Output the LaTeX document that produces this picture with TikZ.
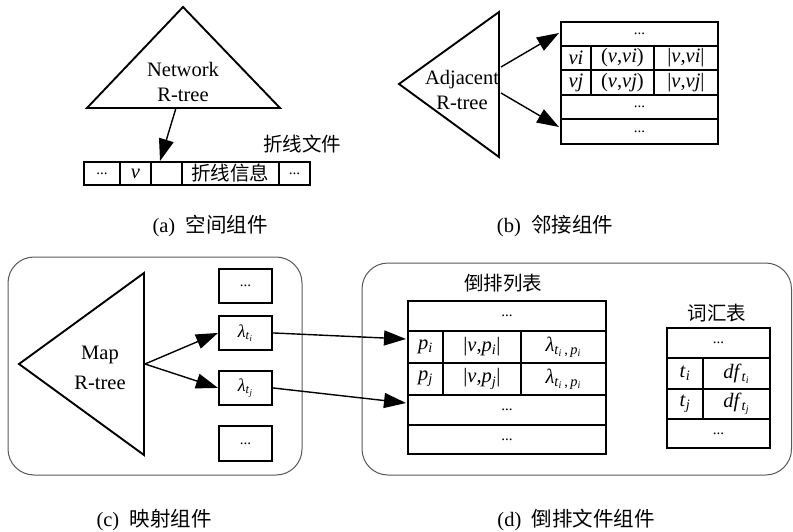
\documentclass[tikz,border=0pt]{standalone}
\usepackage{fontspec}
\setmainfont{Liberation Serif}
\newfontfamily\cjk{Noto Sans CJK SC}
\usetikzlibrary{arrows.meta}
\newcommand\iv[1]{\textit{#1}}
\newcommand\sbs[1]{\textsubscript{#1}}
\begin{document}
\begin{tikzpicture}[x=1pt,y=-1pt,
  every node/.style={font=\fontsize{20.5}{23}\selectfont, inner sep=0pt},
  tcell/.style={draw, line width=1.9pt, anchor=north west, inner sep=0pt},
  tri/.style={draw, line width=1.9pt, line join=miter},
  arr/.style={line width=1.4pt, -{Triangle[length=22pt,width=15pt]}},
  panel/.style={draw=black!65, line width=1pt, rounded corners=26pt},
  dotf/.style={font=\fontsize{15}{16}\selectfont},
  twoline/.style={align=center, font=\fontsize{20.5}{25}\selectfont},
  cjkf/.style={font=\fontsize{19.5}{22}\selectfont\cjk},
]
\useasboundingbox[fill=white] (0,0) rectangle (793,532);

% ---------- (a) ----------
\draw[tri] (183,7) -- (280,108) -- (87,108) -- cycle;
\node[twoline] (nettxt) at (183,82) {Network\\R-tree};
\node[tcell, minimum width=36, minimum height=23, dotf] (sa1) at (83,161) {...};
\node[tcell, minimum width=31, minimum height=23] (sa2) at (119,161) {\iv{v}};
\node[tcell, minimum width=31, minimum height=23] (sa3) at (150,161) {};
\node[tcell, minimum width=97, minimum height=23, cjkf] (sa4) at (181,161) {折线信息};
\node[tcell, minimum width=31, minimum height=23, dotf] (sa5) at (278,161) {...};
\node[cjkf] (zxwj) at (302,144) {折线文件};
\coordinate (na) at (176,108);
\coordinate (nb) at (160,161);
\draw[arr] (na) -- (nb);
\node (capa) at (210,226) {(a)\hspace{0.5em}{\cjk 空间组件}};

% ---------- (b) ----------
\draw[tri] (399,84) -- (499,12) -- (499,157) -- cycle;
\node[twoline] (adjtxt) at (462,90) {Adjacent\\R-tree};
\node[tcell, minimum width=157, minimum height=24, dotf] (b1) at (560,21) {...};
\node[tcell, minimum width=30, minimum height=24] (b21) at (560,45) {\iv{vi}};
\node[tcell, minimum width=63, minimum height=24] (b22) at (590,45) {(\iv{v},\iv{vi})};
\node[tcell, minimum width=64, minimum height=24] (b23) at (653,45) {|\iv{v},\iv{vi}|};
\node[tcell, minimum width=30, minimum height=25] (b31) at (560,69) {\iv{vj}};
\node[tcell, minimum width=63, minimum height=25] (b32) at (590,69) {(\iv{v},\iv{vj})};
\node[tcell, minimum width=64, minimum height=25] (b33) at (653,69) {|\iv{v},\iv{vj}|};
\node[tcell, minimum width=157, minimum height=24, dotf] (b4) at (560,94) {...};
\node[tcell, minimum width=157, minimum height=25, dotf] (b5) at (560,118) {...};
\coordinate (ba1) at (501,67);
\coordinate (bt1) at (559,33);
\coordinate (ba2) at (501,93);
\coordinate (bt2) at (559,127);
\draw[arr] (ba1) -- (bt1);
\draw[arr] (ba2) -- (bt2);
\node (capb) at (555,226) {(b)\hspace{0.5em}{\cjk 邻接组件}};

% ---------- (c) ----------
\draw[panel] (8,257) rectangle (302,475);
\draw[tri] (19,364) -- (144,273) -- (144,455) -- cycle;
\node[align=center, font=\fontsize{20.5}{30}\selectfont] (maptxt) at (100,368) {Map\\R-tree};
\node[tcell, minimum width=53, minimum height=34, dotf] (lb1) at (218,268) {...};
\node[tcell, minimum width=53, minimum height=34, font=\fontsize{18}{20}\selectfont] (lb2) at (218,315) {\iv{λ}\sbs{\iv{t}\sbs{\iv{i}}}};
\node[tcell, minimum width=53, minimum height=34, font=\fontsize{18}{20}\selectfont] (lb3) at (218,370) {\iv{λ}\sbs{\iv{t}\sbs{\iv{j}}}};
\node[tcell, minimum width=53, minimum height=35, dotf] (lb4) at (218,425) {...};
\coordinate (mapr) at (145,364);
\draw[arr] (mapr) -- (lb2.west);
\draw[arr] (mapr) -- (lb3.west);
\node (capc) at (154,520) {(c)\hspace{0.5em}{\cjk 映射组件}};

% ---------- (d) ----------
\draw[panel] (362,263) rectangle (791.5,475);
\node[cjkf] (dtitle) at (503,283) {倒排列表};
\node[tcell, minimum width=198, minimum height=30, dotf] (d1) at (407,300) {...};
\node[tcell, minimum width=35, minimum height=32] (d21) at (407,330) {\iv{p}\sbs{\iv{i}}};
\node[tcell, minimum width=78, minimum height=32] (d22) at (442,330) {|\iv{v},\iv{p}\sbs{\iv{i}}|};
\node[tcell, minimum width=85, minimum height=32] (d23) at (520,330) {\iv{λ}\sbs{\iv{t}\sbs{\iv{i}}\,,\,\iv{p}\sbs{\iv{i}}}};
\node[tcell, minimum width=35, minimum height=32] (d31) at (407,362) {\iv{p}\sbs{\iv{j}}};
\node[tcell, minimum width=78, minimum height=32] (d32) at (442,362) {|\iv{v},\iv{p}\sbs{\iv{j}}|};
\node[tcell, minimum width=85, minimum height=32] (d33) at (520,362) {\iv{λ}\sbs{\iv{t}\sbs{\iv{i}}\,,\,\iv{p}\sbs{\iv{i}}}};
\node[tcell, minimum width=198, minimum height=30, dotf] (d4) at (407,394) {...};
\node[tcell, minimum width=198, minimum height=29, dotf] (d5) at (407,424) {...};
\coordinate (dt1) at (406,339);
\coordinate (dt2) at (406,403);
\draw[arr] (lb2.east) -- (dt1);
\draw[arr] (lb3.east) -- (dt2);

\node[cjkf] (vtitle) at (717,313) {词汇表};
\node[tcell, minimum width=103, minimum height=30, dotf] (v1) at (666,327) {...};
\node[tcell, minimum width=36, minimum height=31] (v21) at (666,357) {\iv{t}\sbs{\iv{i}}};
\node[tcell, minimum width=67, minimum height=31] (v22) at (702,357) {\iv{df}\sbs{\iv{t}\sbs{\iv{i}}}};
\node[tcell, minimum width=36, minimum height=30] (v31) at (666,388) {\iv{t}\sbs{\iv{j}}};
\node[tcell, minimum width=67, minimum height=30] (v32) at (702,388) {\iv{df}\sbs{\iv{t}\sbs{\iv{j}}}};
\node[tcell, minimum width=103, minimum height=29, dotf] (v4) at (666,418) {...};
\node (capd) at (576,520) {(d)\hspace{0.5em}{\cjk 倒排文件组件}};
\end{tikzpicture}
\end{document}
